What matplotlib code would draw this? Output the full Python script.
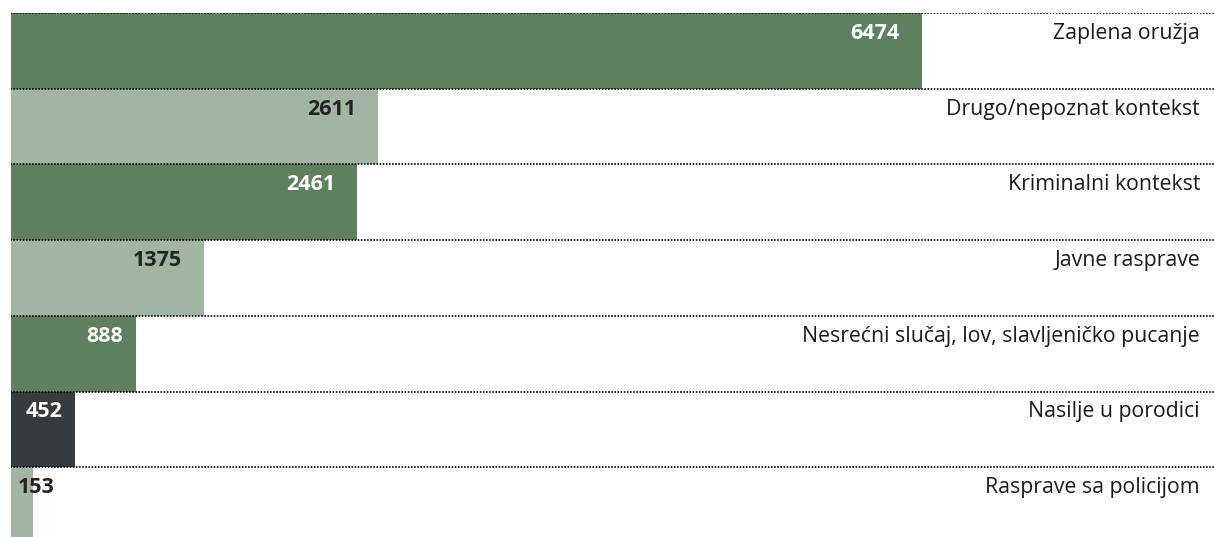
import matplotlib.pyplot as plt

categories = ['Zaplena oružja', 'Drugo/nepoznat kontekst', 'Kriminalni kontekst',
              'Javne rasprave', 'Nesrećni slučaj, lov, slavljeničko pucanje',
              'Nasilje u porodici', 'Rasprave sa policijom']
values = [6474, 2611, 2461, 1375, 888, 452, 153]

dark = '#5f8060'
light = '#a2b5a2'
gray = '#363b40'
bar_colors = [dark, light, dark, light, dark, gray, light]
text_colors = ['white', '#222222', 'white', '#222222', 'white', 'white', '#222222']

plt.rcParams['font.family'] = ['Open Sans', 'DejaVu Sans']

fig = plt.figure(figsize=(12.14, 5.37), dpi=100)
ax = fig.add_axes([11 / 1214, 0, 1203 / 1214, 524 / 537])

rows = range(len(values))
ax.barh([i + 0.5 for i in rows], values, height=1.0, color=bar_colors, zorder=1)

label_x = (1200 - 11) / 1203
for i in rows:
    ax.axhline(i, color='black', linewidth=1.4, linestyle=(0, (0.01, 1.6)),
               dash_capstyle='round', zorder=3)
    ax.text(label_x, i + 0.27, categories[i], transform=ax.get_yaxis_transform(),
            ha='right', va='center', fontsize=15.3, color='#1a1a1a')
    v = values[i]
    if v > 1000:
        ax.annotate(str(v), (v, i + 0.27), xytext=(-16, 0), textcoords='offset points',
                    ha='right', va='center', fontsize=15.5, fontweight='bold',
                    color=text_colors[i])
    elif v > 300:
        ax.annotate(str(v), (v, i + 0.27), xytext=(-9, 0), textcoords='offset points',
                    ha='right', va='center', fontsize=15.5, fontweight='bold',
                    color=text_colors[i])
    else:
        ax.annotate(str(v), (0, i + 0.27), xytext=(5, 0), textcoords='offset points',
                    ha='left', va='center', fontsize=15.5, fontweight='bold',
                    color=text_colors[i])

ax.set_xlim(0, 1203 / 0.1407)
ax.set_ylim(524 / 75.7, 0)
ax.axis('off')

fig.savefig('out.png', dpi=100)
